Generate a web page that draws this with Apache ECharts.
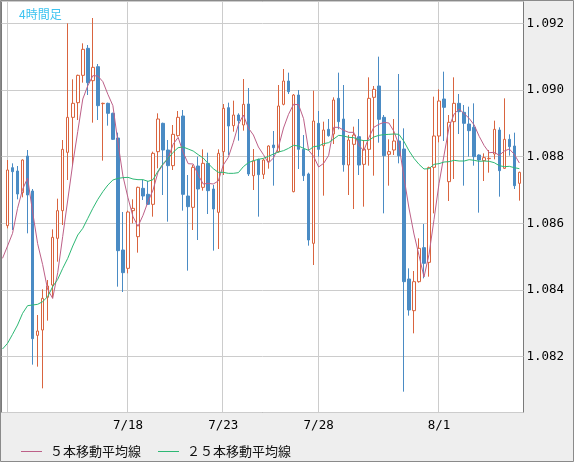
<!DOCTYPE html>
<html>
<head>
<meta charset="utf-8">
<title>4時間足</title>
<script src="https://cdn.jsdelivr.net/npm/echarts@6/dist/echarts.min.js"></script>
<style>
html, body { margin: 0; padding: 0; background: #eeeeee; }
#chart { width: 574px; height: 462px; }
</style>
</head>
<body>
<div id="chart"></div>
<script>
// 4時間足 OHLC
var opens = [
  1.08593, 1.08767, 1.08757, 1.08692, 1.08802, 1.08697, 1.08264, 1.08280, 1.08378, 1.08415,
  1.08555, 1.08638, 1.08813, 1.08918, 1.08962, 1.09044, 1.09125, 1.09028, 1.09070, 1.08959,
  1.08960, 1.08930, 1.08856, 1.08520, 1.08465, 1.08638, 1.08560, 1.08705, 1.08687, 1.08657,
  1.08815, 1.08900, 1.08820, 1.08773, 1.08863, 1.08922, 1.08682, 1.08648, 1.08772, 1.08708,
  1.08780, 1.08703, 1.08633, 1.08815, 1.08947, 1.08893, 1.08925, 1.08895, 1.08958, 1.08743,
  1.08792, 1.08747, 1.08786, 1.08835, 1.08815, 1.08957, 1.09027, 1.08695, 1.08985, 1.08822,
  1.08748, 1.08540, 1.08900, 1.08833, 1.08882, 1.08868, 1.08975, 1.08913, 1.08775, 1.08837,
  1.08860, 1.08777, 1.08822, 1.08978, 1.09012, 1.08918, 1.08807, 1.08820, 1.08847, 1.08823,
  1.08433, 1.08338, 1.08425, 1.08527, 1.08483, 1.08768, 1.08862, 1.08973, 1.08725, 1.08905,
  1.08960, 1.08933, 1.08898, 1.08888, 1.08805, 1.08788, 1.08794, 1.08808, 1.08880, 1.08765,
  1.08852, 1.08832, 1.08720
];
var closes = [
  1.08760, 1.08755, 1.08688, 1.08790, 1.08685, 1.08254, 1.08277, 1.08375, 1.08412, 1.08558,
  1.08638, 1.08822, 1.08918, 1.08960, 1.09044, 1.09122, 1.09022, 1.09068, 1.08953, 1.08960,
  1.08930, 1.08852, 1.08518, 1.08452, 1.08634, 1.08645, 1.08708, 1.08682, 1.08657, 1.08810,
  1.08913, 1.08820, 1.08773, 1.08867, 1.08918, 1.08687, 1.08650, 1.08768, 1.08703, 1.08780,
  1.08698, 1.08643, 1.08810, 1.08945, 1.08892, 1.08925, 1.08908, 1.08957, 1.08748, 1.08787,
  1.08746, 1.08790, 1.08832, 1.08827, 1.08952, 1.09027, 1.08995, 1.08985, 1.08822, 1.08743,
  1.08550, 1.08907, 1.08822, 1.08880, 1.08863, 1.08970, 1.08905, 1.08776, 1.08850, 1.08865,
  1.08775, 1.08822, 1.08975, 1.09002, 1.08912, 1.08803, 1.08815, 1.08847, 1.08803, 1.08425,
  1.08340, 1.08425, 1.08525, 1.08480, 1.08767, 1.08862, 1.08967, 1.08948, 1.08903, 1.08960,
  1.08935, 1.08900, 1.08878, 1.08800, 1.08790, 1.08797, 1.08795, 1.08882, 1.08758, 1.08852,
  1.08830, 1.08713, 1.08753
];
var lows = [
  1.08585, 1.08580, 1.08672, 1.08678, 1.08570, 1.08176, 1.08170, 1.08105, 1.08308, 1.08375,
  1.08485, 1.08595, 1.08730, 1.08773, 1.08910, 1.09022, 1.08985, 1.08902, 1.08910, 1.08788,
  1.08893, 1.08850, 1.08410, 1.08394, 1.08450, 1.08600, 1.08512, 1.08670, 1.08655, 1.08620,
  1.08765, 1.08685, 1.08605, 1.08760, 1.08860, 1.08638, 1.08458, 1.08580, 1.08550, 1.08698,
  1.08628, 1.08518, 1.08523, 1.08745, 1.08805, 1.08875, 1.08848, 1.08878, 1.08742, 1.08700,
  1.08620, 1.08733, 1.08764, 1.08713, 1.08812, 1.08954, 1.08988, 1.08693, 1.08763, 1.08727,
  1.08533, 1.08475, 1.08800, 1.08683, 1.08860, 1.08838, 1.08882, 1.08755, 1.08685, 1.08643,
  1.08745, 1.08650, 1.08773, 1.08743, 1.08842, 1.08630, 1.08713, 1.08805, 1.08780, 1.08095,
  1.08323, 1.08270, 1.08422, 1.08435, 1.08440, 1.08630, 1.08843, 1.08847, 1.08667, 1.08733,
  1.08868, 1.08713, 1.08800, 1.08773, 1.08632, 1.08727, 1.08752, 1.08792, 1.08680, 1.08763,
  1.08803, 1.08703, 1.08668
];
var highs = [
  1.08790, 1.08780, 1.08772, 1.08792, 1.08820, 1.08703, 1.08325, 1.08402, 1.08430, 1.08582,
  1.08674, 1.08850, 1.09200, 1.09032, 1.09046, 1.09140, 1.09135, 1.09216, 1.09078, 1.08962,
  1.08962, 1.08932, 1.08872, 1.08634, 1.08638, 1.08672, 1.08710, 1.08730, 1.08727, 1.08815,
  1.08930, 1.08902, 1.08850, 1.08895, 1.08937, 1.08940, 1.08745, 1.08775, 1.08800, 1.08822,
  1.08812, 1.08715, 1.08822, 1.08958, 1.08962, 1.08968, 1.08930, 1.09033, 1.09006, 1.08823,
  1.08794, 1.08794, 1.08834, 1.08877, 1.09015, 1.09063, 1.09052, 1.08988, 1.09000, 1.08865,
  1.08752, 1.08998, 1.08937, 1.08905, 1.08913, 1.08978, 1.09052, 1.09015, 1.08865, 1.08890,
  1.08913, 1.08850, 1.09038, 1.09012, 1.09100, 1.08925, 1.08852, 1.08913, 1.09048, 1.08885,
  1.08465, 1.08457, 1.08555, 1.08598, 1.08770, 1.08980, 1.09002, 1.09055, 1.08925, 1.09038,
  1.08988, 1.08955, 1.08950, 1.08960, 1.08807, 1.08810, 1.08820, 1.08908, 1.08888, 1.08975,
  1.08867, 1.08872, 1.08755
];
// moving averages at the left edge, before enough bars are on screen
var ma5Edge = 1.08495;
var ma25Edge = 1.08223;
var ma5Head = [1.08532, 1.08570, 1.08645, 1.08702];
var ma25Head = [
  1.08240, 1.08267, 1.08295, 1.08330, 1.08353, 1.08355, 1.08357, 1.08365, 1.08380, 1.08410,
  1.08432, 1.08465, 1.08495, 1.08532, 1.08565, 1.08585, 1.08615, 1.08645, 1.08672, 1.08695,
  1.08715, 1.08730, 1.08735, 1.08737
];
// day separators (bar index) and their labels
var dayIndex = [0, 24, 43, 62, 86];
var dayLabel = ['', '7/18', '7/23', '7/28', '8/1'];

var yMin = 1.080325, yMax = 1.092655;
var n = closes.length;

function movingAvg(len, head) {
  var out = [];
  for (var i = 0; i < n; i++) {
    if (i < len - 1) { out.push(head[i]); continue; }
    var s = 0;
    for (var k = i - len + 1; k <= i; k++) s += closes[k];
    out.push(+(s / len).toFixed(5));
  }
  return out;
}

// one empty slot before the first bar and one after the last
var cats = [], candles = ['-'], labelAt = {};
for (var i = 0; i < n + 2; i++) cats.push(String(i));
for (var i = 0; i < n; i++) candles.push([opens[i], closes[i], lows[i], highs[i]]);
candles.push('-');
dayIndex.forEach(function (d, j) { labelAt[d + 1] = dayLabel[j]; });

var ma5 = [ma5Edge].concat(movingAvg(5, ma5Head), ['-']);
var ma25 = [ma25Edge].concat(movingAvg(25, ma25Head), ['-']);
var dayLines = dayIndex.map(function (d) { return [d + 1, yMax]; });

var myChart = echarts.init(document.getElementById('chart'));
myChart.setOption({
  animation: false,
  backgroundColor: '#eeeeee',
  title: {
    text: '4時間足', left: 14, top: 3,
    textStyle: { fontSize: 12, fontWeight: 'normal', color: '#3cc3f0', fontFamily: 'Noto Sans CJK JP' }
  },
  legend: {
    left: 16, top: 440, itemWidth: 21, itemHeight: 1, itemGap: 17, icon: 'rect',
    textStyle: { fontSize: 13, color: '#111', fontFamily: 'Noto Sans CJK JP', padding: [0, 0, 0, 3] },
    data: ['５本移動平均線', '２５本移動平均線']
  },
  grid: [
    { left: -0.23, top: 1.5, width: 527.1, bottom: 49.5, show: false },
    { left: 1.5, top: 1.5, right: 50.5, bottom: 49.5, show: true,
      backgroundColor: '#fff', borderColor: '#7a7a7a', borderWidth: 1 }
  ],
  xAxis: [
    {
      type: 'category', gridIndex: 0, data: cats, boundaryGap: true,
      axisLine: { show: false }, axisTick: { show: false }, splitLine: { show: false },
      axisLabel: {
        interval: function (idx) { return !!labelAt[idx]; },
        formatter: function (v, idx) { return labelAt[idx] || ''; },
        margin: 7, fontSize: 12.5, color: '#000', fontFamily: 'DejaVu Sans Mono'
      }
    },
    { type: 'value', gridIndex: 1, min: 0, max: 1, show: false }
  ],
  yAxis: [
    { type: 'value', gridIndex: 0, min: yMin, max: yMax, show: false },
    {
      type: 'value', gridIndex: 1, min: yMin, max: yMax, splitNumber: 6, position: 'right',
      axisLine: { show: false }, axisTick: { show: false },
      splitLine: { lineStyle: { color: '#cccccc', width: 1 } },
      axisLabel: {
        margin: 3, fontSize: 12.5, color: '#000', fontFamily: 'DejaVu Sans Mono',
        formatter: function (v) {
          var q = v / 0.002;
          return Math.abs(q - Math.round(q)) < 1e-6 ? v.toFixed(3) : '';
        }
      }
    }
  ],
  graphic: [{
    type: 'rect', shape: { x: 0.5, y: 0.5, width: 573, height: 461 },
    style: { fill: 'none', stroke: '#8a8a8a', lineWidth: 1 }, z: 100, silent: true
  }],
  series: [
    {
      type: 'custom', xAxisIndex: 0, yAxisIndex: 0, z: 1, silent: true,
      data: dayLines,
      renderItem: function (params, api) {
        var x = Math.round(api.coord([api.value(0), yMax])[0]) - 0.5;
        var cs = params.coordSys;
        return {
          type: 'line',
          shape: { x1: x, y1: cs.y, x2: x, y2: cs.y + cs.height },
          style: { stroke: '#cccccc', lineWidth: 1 }
        };
      }
    },
    {
      type: 'candlestick', xAxisIndex: 0, yAxisIndex: 0, barWidth: 3, z: 2,
      data: candles,
      itemStyle: {
        color: '#ffffff', color0: '#4a8bc4',
        borderColor: '#d9643f', borderColor0: '#4a8bc4', borderWidth: 1
      }
    },
    {
      name: '５本移動平均線', type: 'line', xAxisIndex: 0, yAxisIndex: 0, z: 3,
      data: ma5, showSymbol: false, symbol: 'none',
      color: '#bd6088',
      lineStyle: { color: '#bd6088', width: 1 }
    },
    {
      name: '２５本移動平均線', type: 'line', xAxisIndex: 0, yAxisIndex: 0, z: 3,
      data: ma25, showSymbol: false, symbol: 'none',
      color: '#2db874',
      lineStyle: { color: '#2db874', width: 1 }
    }
  ]
});
</script>
</body>
</html>
